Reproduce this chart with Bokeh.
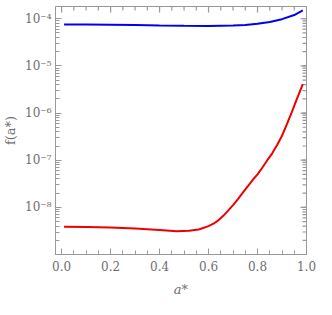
import math
from bokeh.plotting import figure
from bokeh.models import FixedTicker, CustomJSTickFormatter, Range1d
from bokeh.embed import file_html
from bokeh.resources import INLINE

blue_x = [0.01, 0.1, 0.2, 0.3, 0.4, 0.5, 0.6, 0.7, 0.75, 0.8, 0.85, 0.9, 0.95, 0.985]
blue_y = [7.6e-5, 7.6e-5, 7.5e-5, 7.35e-5, 7.2e-5, 7.1e-5, 7.05e-5, 7.2e-5, 7.4e-5, 7.8e-5, 8.5e-5, 9.8e-5, 1.2e-4, 1.5e-4]

red_x = [0.01, 0.1, 0.2, 0.3, 0.4, 0.47, 0.52, 0.56, 0.6, 0.62, 0.64, 0.66, 0.68, 0.70, 0.72, 0.74, 0.76, 0.78,
         0.8, 0.82, 0.84, 0.86, 0.88, 0.9, 0.92, 0.94, 0.96, 0.985]
red_y = [3.9e-9, 3.85e-9, 3.75e-9, 3.55e-9, 3.3e-9, 3.1e-9, 3.2e-9, 3.4e-9, 4.0e-9, 4.5e-9, 5.3e-9, 6.6e-9,
         8.5e-9, 1.12e-8, 1.5e-8, 2.05e-8, 2.8e-8, 3.8e-8,
         5.0e-8, 7.0e-8, 1.0e-7, 1.4e-7, 2.1e-7, 3.3e-7, 5.8e-7, 1.05e-6, 1.95e-6, 4.1e-6]

x_ticks = [0.0, 0.2, 0.4, 0.6, 0.8, 1.0]
x_minor = [round(0.05 * i, 2) for i in range(21)]
y_ticks = [1e-8, 1e-7, 1e-6, 1e-5, 1e-4]
y_minor = [k * 10.0 ** e for e in range(-9, -3) for k in range(1, 10)]

X0, X1 = -0.025, 1.0
Y0, Y1 = 1e-9, 10 ** -3.74

GRAY = "#999999"
TXT = "#6e6e6e"
FONT = "DejaVu Serif"

p = figure(width=316, height=299, y_axis_type="log",
           x_range=Range1d(X0, X1), y_range=Range1d(Y0, Y1),
           output_backend="svg", toolbar_location=None,
           min_border_left=4, min_border_right=10, min_border_top=6, min_border_bottom=4)
p.grid.visible = False
p.outline_line_color = GRAY
p.background_fill_color = "white"

# mirrored inward ticks on top and right edges
top_minor = [t for t in x_minor if X0 <= t <= X1 and t not in x_ticks]
r_minor = [t for t in y_minor if Y0 < t <= Y1]
p.ray(x_ticks, [Y1] * len(x_ticks), length=6, length_units="screen", angle=-math.pi / 2,
      line_color=GRAY, line_width=1.2)
p.ray(top_minor, [Y1] * len(top_minor), length=4, length_units="screen", angle=-math.pi / 2,
      line_color=GRAY, line_width=1.2)
p.ray([X1] * len(y_ticks), y_ticks, length=6, length_units="screen", angle=math.pi,
      line_color=GRAY, line_width=1.2)
p.ray([X1] * len(r_minor), r_minor, length=4, length_units="screen", angle=math.pi,
      line_color=GRAY, line_width=1.2)

p.line(blue_x, blue_y, line_color="#0000ee", line_width=2)
p.line(red_x, red_y, line_color="#ee0000", line_width=2)

sup = CustomJSTickFormatter(code="""
const m = {'-':'\u207b','0':'\u2070','1':'\u00b9','2':'\u00b2','3':'\u00b3','4':'\u2074','5':'\u2075','6':'\u2076','7':'\u2077','8':'\u2078','9':'\u2079'};
const e = Math.round(Math.log10(tick)).toString();
let s = '';
for (const c of e) s += m[c];
return '10' + s;
""")

def style(ax):
    ax.axis_line_color = GRAY
    ax.major_tick_line_color = GRAY
    ax.minor_tick_line_color = GRAY
    ax.major_tick_in = 6
    ax.major_tick_out = 0
    ax.minor_tick_in = 4
    ax.minor_tick_out = 0
    ax.major_label_text_color = TXT
    ax.major_label_text_font = FONT
    ax.major_label_text_font_size = "12px"
    ax.axis_label_text_color = TXT
    ax.axis_label_text_font = FONT
    ax.axis_label_text_font_size = "13px"
    ax.axis_label_text_font_style = "italic"

xa = p.xaxis[0]
xa.ticker = FixedTicker(ticks=x_ticks, minor_ticks=x_minor)
xa.formatter = CustomJSTickFormatter(code="return tick.toFixed(1);")
xa.axis_label = "a*"
style(xa)
xa.major_label_standoff = 6
xa.axis_label_standoff = 8

ya = p.yaxis[0]
ya.ticker = FixedTicker(ticks=y_ticks, minor_ticks=y_minor)
ya.formatter = sup
ya.axis_label = "f(a*)"
style(ya)
ya.axis_label_text_font_style = "normal"
ya.major_label_orientation = "horizontal"
ya.major_label_standoff = 4
ya.axis_label_standoff = 4

open("out.html", "w").write(file_html(p, INLINE))
